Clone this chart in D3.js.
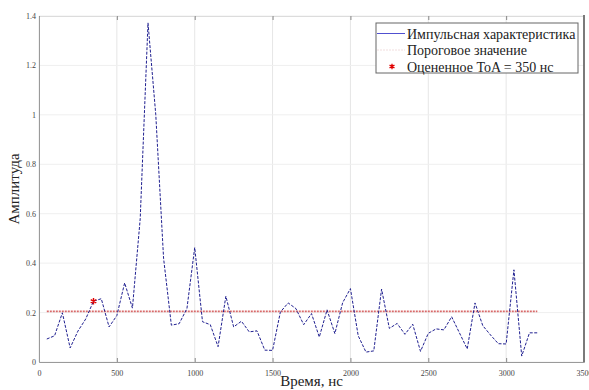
<!DOCTYPE html>
<html>
<head>
<meta charset="utf-8">
<script src="https://cdn.jsdelivr.net/npm/d3@7"></script>
<style>
  body { margin: 0; background: #fff; }
  text { font-family: "Liberation Serif", "DejaVu Serif", serif; }
</style>
</head>
<body>
<figure id="chart" style="margin:0"></figure>
<script>
// time axis (ns) and impulse response amplitude
const times = [50, 100, 150, 200, 250, 300, 350, 400, 450, 500, 550, 600, 650, 700, 750, 800,
  850, 900, 950, 1000, 1050, 1100, 1150, 1200, 1250, 1300, 1350, 1400, 1450, 1500, 1550, 1600,
  1650, 1700, 1750, 1800, 1850, 1900, 1950, 2000, 2050, 2100, 2150, 2200, 2250, 2300, 2350, 2400,
  2450, 2500, 2550, 2600, 2650, 2700, 2750, 2800, 2850, 2900, 2950, 3000, 3050, 3100, 3150, 3200];
const amplitude = [0.093, 0.106, 0.199, 0.057, 0.125, 0.174, 0.246, 0.256, 0.142, 0.188, 0.32, 0.218, 0.58, 1.372, 1.0, 0.42,
  0.149, 0.155, 0.216, 0.463, 0.163, 0.151, 0.062, 0.266, 0.142, 0.165, 0.122, 0.126, 0.048, 0.047, 0.202, 0.239,
  0.216, 0.151, 0.196, 0.101, 0.211, 0.115, 0.24, 0.297, 0.106, 0.04, 0.045, 0.295, 0.136, 0.156, 0.112, 0.153,
  0.043, 0.116, 0.134, 0.13, 0.183, 0.118, 0.053, 0.239, 0.147, 0.109, 0.074, 0.073, 0.373, 0.024, 0.118, 0.118];
const threshold = 0.205;
const toaTime = 350;
const toaValue = 0.246;

const xTicks = [0, 500, 1000, 1500, 2000, 2500, 3000, 3500];
const yTicks = [0, 0.2, 0.4, 0.6, 0.8, 1, 1.2, 1.4];
const legendLabels = ["Импульсная характеристика", "Пороговое значение", "Оцененное ToA = 350 нс"];

const width = 589, height = 390;
const margin = { top: 16, right: 5, bottom: 28, left: 39 };

const svg = d3.select("figure#chart")
  .append("svg")
  .attr("width", width)
  .attr("height", height);

const x = d3.scaleLinear()
  .domain([0, 3500])
  .range([margin.left, width - margin.right]);

const y = d3.scaleLinear()
  .domain([0, 1.4])
  .range([height - margin.bottom, margin.top]);

// grid
svg.append("g")
  .selectAll("line.vgrid")
  .data(xTicks)
  .enter()
  .append("line")
  .attr("x1", d => x(d)).attr("x2", d => x(d))
  .attr("y1", y(0)).attr("y2", y(1.4))
  .attr("stroke", "#e6e6e6")
  .attr("stroke-width", 1);

svg.append("g")
  .selectAll("line.hgrid")
  .data(yTicks)
  .enter()
  .append("line")
  .attr("x1", x(0)).attr("x2", x(3500))
  .attr("y1", d => y(d)).attr("y2", d => y(d))
  .attr("stroke", "#efefef")
  .attr("stroke-width", 1);

// X axis, bottom and top (ticks inward)
svg.append("g")
  .attr("transform", `translate(0,${y(0)})`)
  .call(d3.axisBottom(x)
    .tickValues(xTicks)
    .tickSize(-4)
    .tickPadding(8)
    .tickFormat(d => d))
  .call(g => g.select(".domain").attr("stroke", "#9a9a9a"))
  .call(g => g.selectAll(".tick line").attr("stroke", "#888"))
  .call(g => g.selectAll("text").attr("fill", "#444").attr("font-size", 8)
    .attr("font-family", "Liberation Serif"));

svg.append("g")
  .attr("transform", `translate(0,${y(1.4)})`)
  .call(d3.axisTop(x)
    .tickValues(xTicks)
    .tickSize(-4)
    .tickFormat(""))
  .call(g => g.select(".domain").attr("stroke", "#dcdcdc"))
  .call(g => g.selectAll(".tick line").attr("stroke", "#888"));

// Y axis
svg.append("g")
  .attr("transform", `translate(${x(0)},0)`)
  .call(d3.axisLeft(y)
    .tickValues(yTicks)
    .tickSize(0)
    .tickPadding(3)
    .tickFormat(d => d))
  .call(g => g.select(".domain").attr("stroke", "#9a9a9a"))
  .call(g => g.selectAll("text").attr("fill", "#444").attr("font-size", 8)
    .attr("font-family", "Liberation Serif"));

// right border
svg.append("line")
  .attr("x1", x(3500)).attr("x2", x(3500))
  .attr("y1", y(0)).attr("y2", y(1.4) - 1)
  .attr("stroke", "#7a7a7a")
  .attr("stroke-width", 2);

// threshold line
svg.append("path")
  .datum(times)
  .attr("fill", "none")
  .attr("stroke", "#d86a6a")
  .attr("stroke-width", 1.8)
  .attr("stroke-dasharray", "2,1")
  .attr("d", d3.line()
    .x(d => x(d))
    .y(() => y(threshold)));

// impulse response
svg.append("path")
  .datum(times)
  .attr("fill", "none")
  .attr("stroke", "#1f1f90")
  .attr("stroke-width", 1)
  .attr("stroke-dasharray", "3,1.5")
  .attr("d", d3.line()
    .x(d => x(d))
    .y((d, i) => y(amplitude[i])));

// estimated ToA marker
svg.append("path")
  .attr("transform", `translate(${x(toaTime)},${y(toaValue)})`)
  .attr("d", d3.symbol().type(d3.symbolAsterisk).size(28)())
  .attr("fill", "none")
  .attr("stroke", "#e00000")
  .attr("stroke-width", 1.4);

// axis labels
svg.append("text")
  .attr("x", (x(0) + x(3500)) / 2)
  .attr("y", 386)
  .attr("text-anchor", "middle")
  .attr("font-size", 15)
  .attr("fill", "#222")
  .text("Время, нс");

svg.append("text")
  .attr("transform", `translate(19,${(y(0) + y(1.4)) / 2}) rotate(-90)`)
  .attr("text-anchor", "middle")
  .attr("font-size", 15)
  .attr("fill", "#222")
  .text("Амплитуда");

// legend
const legend = svg.append("g");
legend.append("rect")
  .attr("x", 376).attr("y", 23)
  .attr("width", 202).attr("height", 50)
  .attr("fill", "#fff")
  .attr("stroke", "#666")
  .attr("stroke-width", 1);

const rowY = [33.5, 50, 66.5];
legend.selectAll("text")
  .data(legendLabels)
  .enter()
  .append("text")
  .attr("x", 407)
  .attr("y", (d, i) => rowY[i] + 5)
  .attr("font-size", 14)
  .attr("fill", "#222")
  .text(d => d);

legend.append("line")
  .attr("x1", 377).attr("x2", 405)
  .attr("y1", rowY[0]).attr("y2", rowY[0])
  .attr("stroke", "#5050d0")
  .attr("stroke-width", 1);

legend.append("line")
  .attr("x1", 377).attr("x2", 405)
  .attr("y1", rowY[1]).attr("y2", rowY[1])
  .attr("stroke", "#f1dede")
  .attr("stroke-width", 1)
  .attr("stroke-dasharray", "2,1");

legend.append("path")
  .attr("transform", `translate(392,${rowY[2]})`)
  .attr("d", d3.symbol().type(d3.symbolAsterisk).size(22)())
  .attr("fill", "none")
  .attr("stroke", "#e00000")
  .attr("stroke-width", 1.3);
</script>
</body>
</html>
